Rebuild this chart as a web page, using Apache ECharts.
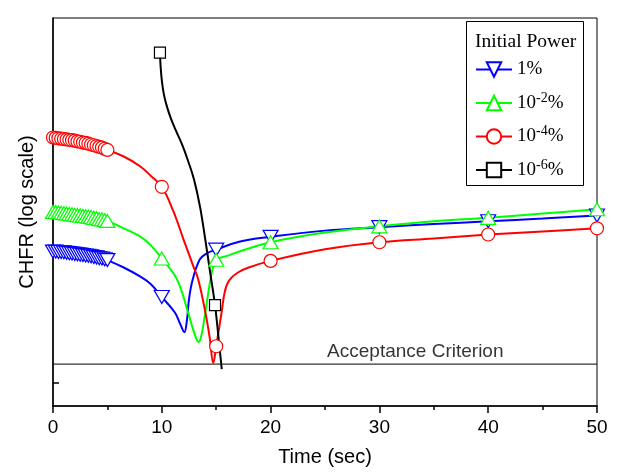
<!DOCTYPE html>
<html>
<head>
<meta charset="utf-8">
<script src="https://cdn.jsdelivr.net/npm/echarts@6/dist/echarts.min.js"></script>
<style>
  html, body { margin: 0; padding: 0; background: #fff; }
  #chart { width: 619px; height: 472px; }
</style>
</head>
<body>
<div id="chart"></div>
<script>
// y is CHFR on a log scale with no labels, so values are in arbitrary units (0-100)
const seriesNames = ['1%', '10^-2%', '10^-4%', '10^-6%'];

// times that carry a marker (dense at the start, then sparse)
const markerTimes = [0, 0.25, 0.5, 0.75, 1, 1.25, 1.5, 1.75, 2, 2.25, 2.5, 2.75, 3, 3.25, 3.5, 3.75, 4, 4.25, 4.5, 4.75, 5, 10, 15, 20, 30, 40, 50];
const blackMarkerTimes = [9.83, 14.89];

// 1%
const blueT = [0, 0.25, 0.5, 0.75, 1, 1.25, 1.5, 1.75, 2, 2.25, 2.5, 2.75, 3, 3.25, 3.5, 3.75, 4, 4.25, 4.5, 4.75, 5,
  6.5, 8, 9, 10, 11.2, 11.7, 12.07, 12.3, 12.5, 12.84, 13.5, 14.1, 15, 17.2, 20, 25, 30, 35, 40, 45, 50];
const blueV = [39.8, 39.8, 39.7, 39.7, 39.6, 39.5, 39.4, 39.3, 39.2, 39.1, 39.0, 38.9, 38.8, 38.7, 38.6, 38.4, 38.3, 38.1, 38.0, 37.8, 37.6,
  35.7, 33.4, 31.4, 28.1, 24.1, 21.1, 19.0, 21.9, 27.5, 32.6, 37.8, 39.3, 40.3, 42.4, 43.6, 45.2, 46.1, 46.9, 47.6, 48.3, 49.1];

// 10^-2 %
const greenT = [0, 0.25, 0.5, 0.75, 1, 1.25, 1.5, 1.75, 2, 2.25, 2.5, 2.75, 3, 3.25, 3.5, 3.75, 4, 4.25, 4.5, 4.75, 5,
  6.5, 8, 9, 10, 11.4, 12.4, 12.9, 13.2, 13.36, 13.55, 13.8, 14.0, 14.4, 14.7, 15, 16, 17.2, 20, 25, 30, 35, 40, 45, 50];
const greenV = [50.0, 50.0, 49.9, 49.8, 49.7, 49.6, 49.5, 49.4, 49.3, 49.2, 49.1, 49.0, 48.9, 48.8, 48.7, 48.5, 48.4, 48.2, 48.1, 47.9, 47.7,
  45.8, 43.7, 41.4, 38.0, 32.6, 24.2, 19.5, 17.2, 16.5, 17.2, 20.6, 24.2, 31.4, 35.7, 37.7, 38.7, 39.9, 42.2, 44.7, 46.3, 47.6, 48.5, 49.6, 50.7];

// 10^-4 %
const redT = [0, 0.25, 0.5, 0.75, 1, 1.25, 1.5, 1.75, 2, 2.25, 2.5, 2.75, 3, 3.25, 3.5, 3.75, 4, 4.25, 4.5, 4.75, 5,
  6.5, 8, 9, 10, 11.06, 12, 12.9, 13.35, 14, 14.4, 14.73, 15, 15.5, 15.8, 16.2, 17, 18, 20, 25, 30, 35, 40, 45, 50];
const redV = [69.2, 69.1, 69.0, 68.9, 68.8, 68.7, 68.6, 68.5, 68.4, 68.2, 68.1, 67.9, 67.8, 67.6, 67.4, 67.2, 67.0, 66.8, 66.6, 66.3, 66.0,
  64.3, 61.8, 59.3, 56.5, 50.2, 42.9, 36.0, 32.6, 24.2, 17.7, 11.1, 15.4, 24.2, 29.6, 32.4, 34.4, 35.7, 37.4, 40.4, 42.2, 43.2, 44.2, 45.0, 45.8];

// 10^-6 %
const blackT = [9.83, 9.90, 10.02, 10.20, 10.48, 10.85, 11.31, 11.86, 12.41, 12.96, 13.51, 13.97, 14.43, 14.89, 15.21, 15.51];
const blackV = [91.1, 87.1, 83.5, 80.2, 77.1, 74.0, 70.9, 67.4, 63.2, 58.4, 51.4, 43.4, 34.7, 26.0, 17.7, 9.5];

const acceptLevel = 10.8;
const acceptLabelT = 33.3;

const xTicks = [0, 10, 20, 30, 40, 50];

function pairs(t, v) {
  return t.map((x, i) => [x, v[i]]);
}

function curve(name, t, v, marks, symbol, size, color, rotate) {
  return {
    name: name,
    type: 'line',
    data: pairs(t, v),
    smooth: 0.4,
    symbol: symbol,
    symbolRotate: rotate || 0,
    symbolSize: (val) => marks.indexOf(val[0]) >= 0 ? size : 0,
    showSymbol: true,
    lineStyle: { color: color, width: 2 },
    itemStyle: { color: '#fff', borderColor: color, borderWidth: 1.2 },
    emphasis: { disabled: true }
  };
}

const chart = echarts.init(document.getElementById('chart'));

chart.setOption({
  animation: false,
  grid: {
    left: 53, right: 22, top: 18, bottom: 65,
    show: true, borderColor: '#000', borderWidth: 1
  },
  xAxis: {
    type: 'value',
    min: xTicks[0], max: xTicks[xTicks.length - 1], interval: 10,
    name: 'Time (sec)',
    nameLocation: 'middle',
    nameGap: 41,
    nameTextStyle: { fontFamily: 'Liberation Sans', fontSize: 20, color: '#000' },
    axisLine: { lineStyle: { color: '#000', width: 1.5 } },
    axisTick: { length: 7, lineStyle: { color: '#000', width: 1.5 } },
    minorTick: { show: true, splitNumber: 2, length: 4, lineStyle: { color: '#000', width: 1.5 } },
    splitLine: { show: false },
    axisLabel: { fontFamily: 'Liberation Sans', fontSize: 19, color: '#000', margin: 12 }
  },
  yAxis: {
    type: 'value',
    min: 0, max: 100,
    name: 'CHFR (log scale)',
    nameLocation: 'middle',
    nameGap: 16,
    nameTextStyle: { fontFamily: 'Liberation Sans', fontSize: 20, color: '#000' },
    axisLine: { show: true, lineStyle: { color: '#000', width: 1.5 } },
    axisTick: { show: true, inside: true, length: 6, customValues: [5.9], lineStyle: { color: '#000', width: 1.5 } },
    axisLabel: { show: false },
    splitLine: { show: false }
  },
  legend: {
    data: seriesNames,
    orient: 'vertical',
    left: 475, top: 60,
    padding: 0,
    itemWidth: 36, itemHeight: 18, itemGap: 12,
    selectedMode: false,
    formatter: (n) => '{n|' + n.replace(/\^(-?\d+)/, '}{s|$1}{n|') + '}',
    textStyle: {
      color: '#000',
      rich: {
        n: { fontFamily: 'Liberation Serif', fontSize: 19, color: '#000', lineHeight: 24 },
        s: { fontFamily: 'Liberation Serif', fontSize: 14, color: '#000', verticalAlign: 'top', lineHeight: 14 }
      }
    }
  },
  graphic: [
    { type: 'rect', z: 3, shape: { x: 466.5, y: 21.5, width: 117, height: 164 }, style: { fill: '#fff', stroke: '#000', lineWidth: 1 } },
    { type: 'text', z: 5, style: { x: 475, y: 42, text: 'Initial Power', font: '19.5px "Liberation Serif"', fill: '#000', verticalAlign: 'middle' } }
  ],
  series: [
    {
      type: 'line',
      data: [[xTicks[0], acceptLevel], [xTicks[xTicks.length - 1], acceptLevel]],
      symbol: 'none',
      lineStyle: { color: '#000', width: 1 },
      silent: true,
      z: 1
    },
    {
      type: 'scatter',
      data: [[acceptLabelT, acceptLevel]],
      symbolSize: 0,
      silent: true,
      label: {
        show: true, position: 'top', distance: 3,
        formatter: 'Acceptance Criterion',
        fontFamily: 'Liberation Sans', fontSize: 19, color: '#000'
      }
    },
    curve(seriesNames[0], blueT, blueV, markerTimes, 'triangle', [15, 13], '#0000ff', 180),
    curve(seriesNames[1], greenT, greenV, markerTimes, 'triangle', [15, 13], '#00ff00', 0),
    curve(seriesNames[2], redT, redV, markerTimes, 'circle', 13, '#ff0000', 0),
    curve(seriesNames[3], blackT, blackV, blackMarkerTimes, 'rect', 11, '#000000', 0)
  ]
});
</script>
</body>
</html>
